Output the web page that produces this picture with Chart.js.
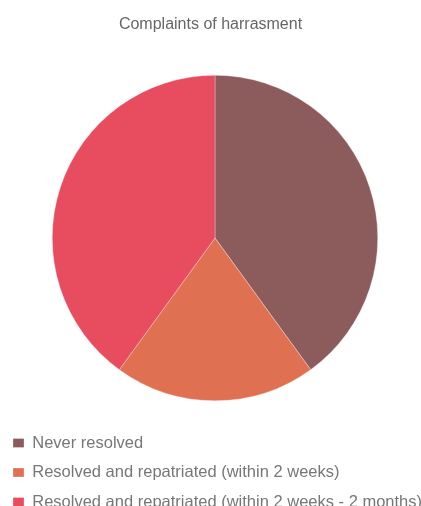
<!DOCTYPE html>
<html>
<head>
<meta charset="utf-8">
<script src="https://cdn.jsdelivr.net/npm/chart.js@4/dist/chart.umd.min.js"></script>
<style>
  html, body { margin: 0; padding: 0; background: #fff; overflow: hidden; }
  #wrap { width: 421px; height: 506px; }
</style>
</head>
<body>
<div id="wrap"><canvas id="chart" width="421" height="506"></canvas></div>
<script>
const chartTitle = "Complaints of harrasment";
const categories = [
  "Never resolved",
  "Resolved and repatriated (within 2 weeks)",
  "Resolved and repatriated (within 2 weeks - 2 months)"
];
const shares = [40, 20, 40];
const sliceColors = ["#8c5c5c", "#e07052", "#e84c5f"];

// the pie sits a little right of the page centre in the original
const nudgePie = {
  id: "nudgePie",
  afterLayout(chart) {
    chart.chartArea.left += 9;
    chart.chartArea.width -= 9;
  }
};

const ctx = document.getElementById("chart").getContext("2d");

new Chart(ctx, {
  type: "pie",
  data: {
    labels: categories,
    datasets: [{
      data: shares,
      backgroundColor: sliceColors,
      borderColor: "rgba(255,255,255,0.6)",
      borderWidth: 0.5
    }]
  },
  plugins: [nudgePie],
  options: {
    responsive: false,
    animation: false,
    layout: {
      padding: { left: 0, right: 0, top: 0, bottom: -14.25 }
    },
    plugins: {
      title: {
        display: true,
        text: chartTitle,
        color: "#666",
        font: { family: "'Liberation Sans', Arial, sans-serif", size: 16, weight: "normal", lineHeight: 1.2 },
        padding: { top: 15, bottom: 40.8 }
      },
      legend: {
        position: "bottom",
        align: "start",
        title: {
          display: true,
          text: "",
          font: { size: 20.75, lineHeight: 1 },
          padding: 0
        },
        labels: {
          boxWidth: 11,
          boxHeight: 9,
          padding: 13,
          color: "#777",
          font: { family: "'Liberation Sans', Arial, sans-serif", size: 16.5 }
        }
      },
      tooltip: { enabled: false }
    }
  }
});
</script>
</body>
</html>
